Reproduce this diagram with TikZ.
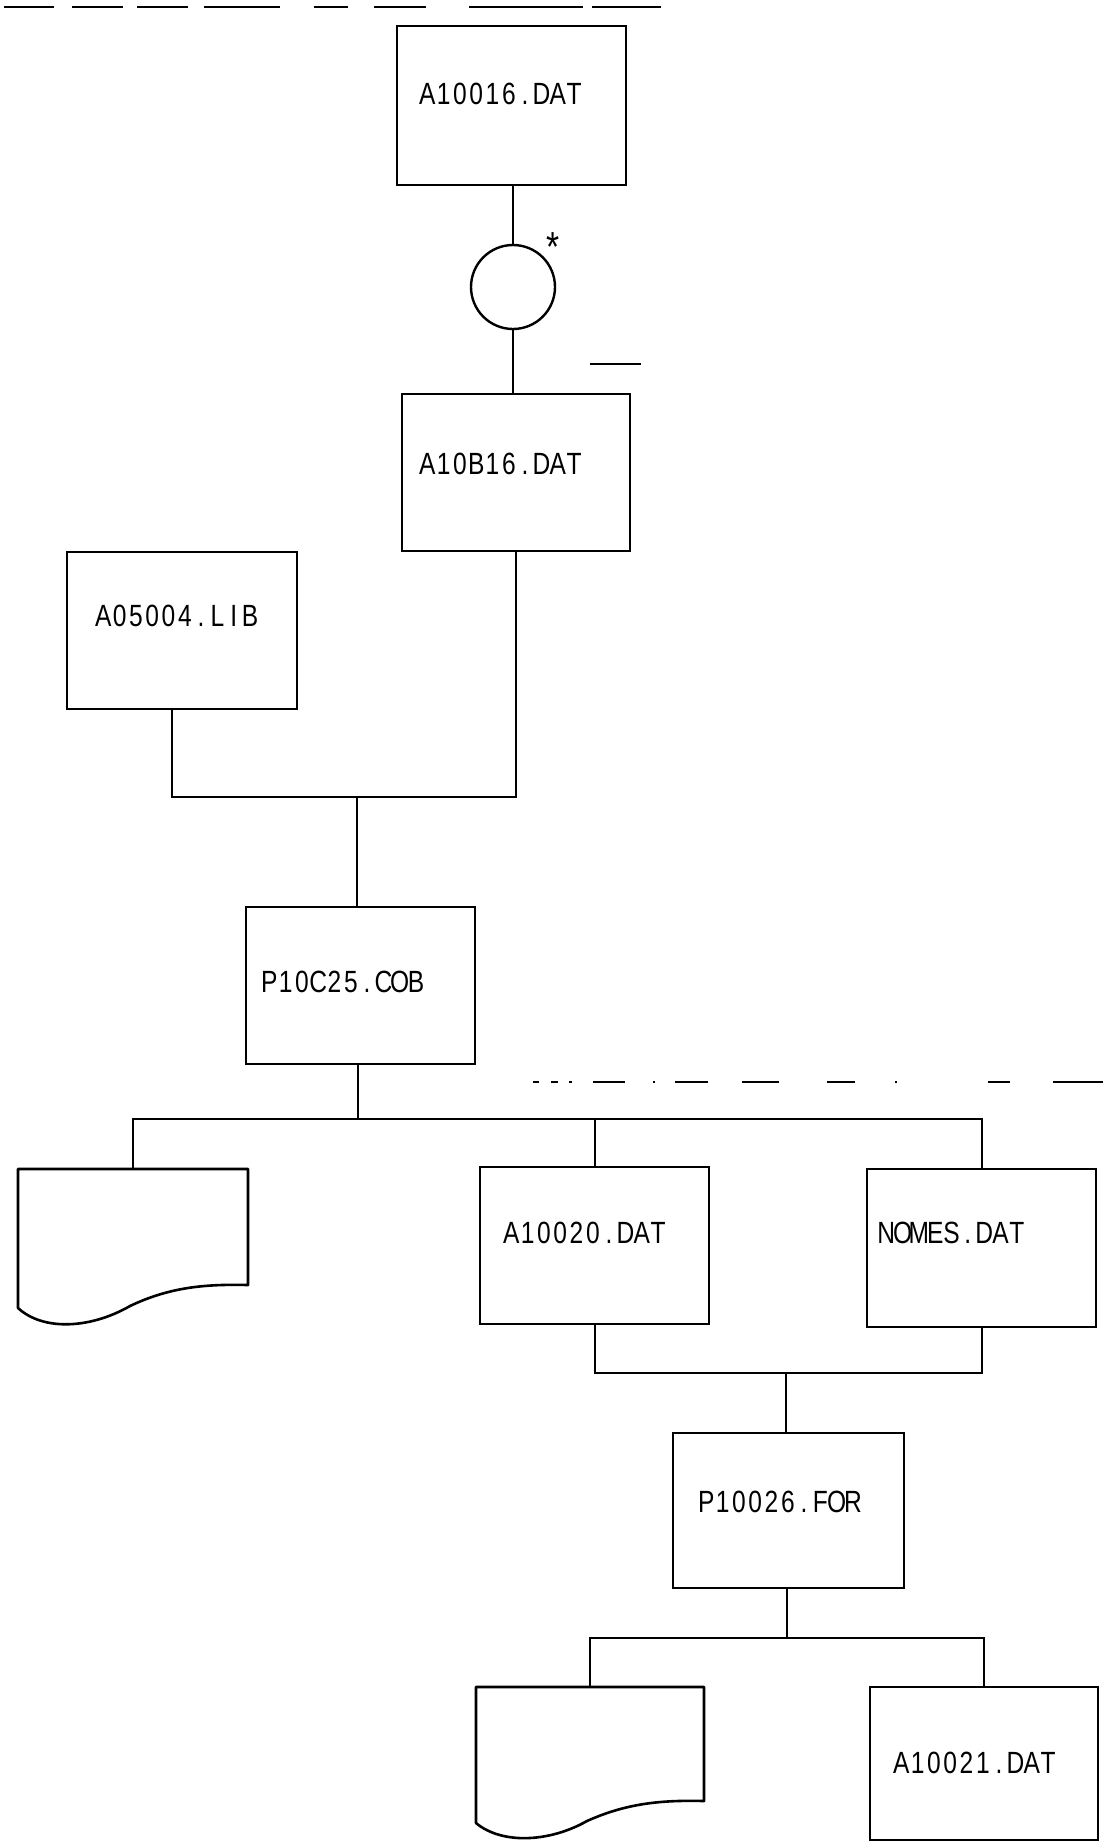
\documentclass[tikz,border=0pt]{standalone}
\usepackage{fontspec}
\setmainfont[FakeStretch=0.8]{Liberation Sans}
\usetikzlibrary{calc}
\newcommand\lblcell[1]{\makebox[16.3pt][c]{#1}}
\let\lblend\relax
\def\lblloop#1{\ifx#1\lblend\else\lblcell{#1}\expandafter\lblloop\fi}
\newcommand\monolbl[1]{\lblloop#1\lblend}
\begin{document}
\begin{tikzpicture}[x=1pt,y=-1pt,
  box/.style={draw, line width=2.6pt, minimum width=229pt, minimum height=157pt, anchor=north west, inner sep=0pt, outer sep=0pt},
  docnode/.style={minimum width=230pt, minimum height=140pt, anchor=north west, inner sep=0pt, outer sep=0pt},
  boxline/.style={line width=2.6pt, line join=round},
  lbl/.style={anchor=west, inner sep=0pt, font=\fontsize{30.7}{36}\selectfont},
  conn/.style={line width=2pt},
  cutline/.style={line width=2pt}]
\useasboundingbox (0,0) rectangle (1107,1842);

% page cut marks
\draw[cutline] (4,7) -- (54,7) (72,7) -- (123,7) (137,7) -- (188,7) (204,7) -- (280,7)
  (314,7) -- (348,7) (374,7) -- (426,7) (469,7) -- (583,7) (592,7) -- (661,7);
\draw[cutline] (533,1082) -- (539,1082) (551,1082) -- (558,1082) (569,1082) -- (572,1082)
  (593,1082) -- (625,1082) (653,1082) -- (655,1082) (675,1082) -- (708,1082) (742,1082) -- (779,1082)
  (827,1082) -- (855,1082) (895,1082) -- (897,1082) (988,1082) -- (1010,1082) (1053,1082) -- (1103,1082);
\draw[cutline] (590,364) -- (641,364);

% boxes
\node[box, minimum height=159pt] (b1) at (397,26) {};
\node[circle, draw, line width=2.4pt, minimum size=84pt, inner sep=0pt, outer sep=0pt] (c1) at (513,287) {};
\node[anchor=north, inner sep=0pt, font=\fontsize{42}{48}\selectfont] (star) at (553,232) {*};
\node[box, minimum width=228pt] (b2) at (402,394) {};
\node[box, minimum width=230pt] (a05) at (67,552) {};
\node[box] (p1) at (246,907) {};
\node[docnode] (d1) at (18,1169) {};
\node[box] (a20) at (480,1167) {};
\node[box, minimum height=158pt] (nomes) at (867,1169) {};
\node[box, minimum width=231pt, minimum height=155pt] (p2) at (673,1433) {};
\node[docnode, minimum width=228pt] (d2) at (476,1687) {};
\node[box, minimum width=228pt, minimum height=153pt] (a21) at (870,1687) {};

% document shapes
\draw[boxline] (d1.north west) -- (d1.north east) -- ($(d1.north east)+(0,116)$)
  .. controls ($(d1.north west)+(187,115)$) and ($(d1.north west)+(152,118)$) .. ($(d1.north west)+(112,137)$)
  .. controls ($(d1.north west)+(72,160)$) and ($(d1.north west)+(25,162)$) .. ($(d1.north west)+(0,139)$) -- cycle;
\draw[boxline] (d2.north west) -- (d2.north east) -- ($(d2.north east)+(0,114)$)
  .. controls ($(d2.north west)+(186,113)$) and ($(d2.north west)+(151,116)$) .. ($(d2.north west)+(111,134)$)
  .. controls ($(d2.north west)+(72,156)$) and ($(d2.north west)+(25,157)$) .. ($(d2.north west)+(0,136)$) -- cycle;

% labels
\node[lbl] (t1) at (419,94) {\monolbl{A10016.DAT}};
\node[lbl] (t2) at (419,464) {\monolbl{A10B16.DAT}};
\node[lbl] (t3) at (95,616) {\monolbl{A05004.LIB}};
\node[lbl] (t4) at (261,982) {\monolbl{P10C25.COB}};
\node[lbl] (t5) at (503,1233) {\monolbl{A10020.DAT}};
\node[lbl] (t6) at (878,1233) {\monolbl{NOMES.DAT}};
\node[lbl] (t7) at (698,1502) {\monolbl{P10026.FOR}};
\node[lbl] (t8) at (893,1763) {\monolbl{A10021.DAT}};

% connectors
\coordinate (j1) at (357,797);
\coordinate (j2) at (358,1119);
\coordinate (j3) at (786,1373);
\coordinate (j4) at (787,1638);
\draw[conn] (c1.north) -- (c1.north |- b1.south);
\draw[conn] (c1.south) -- (c1.south |- b2.north);
\draw[conn] ($(a05.south west)+(105,0)$) |- (j1) -| (b2.south);
\draw[conn] (j1) -- (j1 |- p1.north);
\draw[conn] (j2 |- p1.south) -- (j2);
\draw[conn] (d1.north) |- (j2) -| (nomes.north);
\draw[conn] (a20.north) -- (a20.north |- j2);
\draw[conn] (a20.south) |- (j3) -| (nomes.south);
\draw[conn] (j3) -- (j3 |- p2.north);
\draw[conn] (j4 |- p2.south) -- (j4);
\draw[conn] (d2.north) |- (j4) -| (a21.north);
\end{tikzpicture}
\end{document}
